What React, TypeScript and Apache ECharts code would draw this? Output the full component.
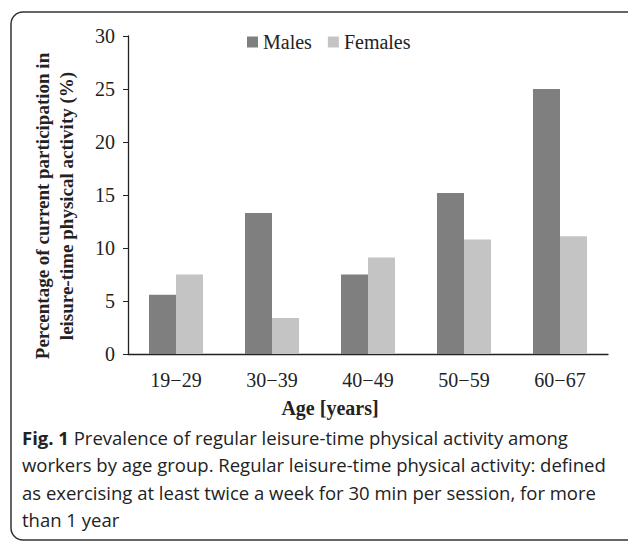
import React, { useEffect, useRef } from "react";
import * as echarts from "echarts";

const categories = ["19\u221229", "30\u221239", "40\u221249", "50\u221259", "60\u221267"];
const males = [5.6, 13.3, 7.5, 15.2, 25.0];
const females = [7.5, 3.4, 9.1, 10.8, 11.1];
const seriesNames = ["Males", "Females"];
const yTitle = "Percentage of current participation in\nleisure-time physical activity (%)";
const xTitle = "Age [years]";
const captionLines = [
  "Prevalence of regular leisure-time physical activity among",
  "workers by age group. Regular leisure-time physical activity: defined",
  "as exercising at least twice a week for 30 min per session, for more",
  "than 1 year",
];

const SERIF = "'Liberation Serif', 'Times New Roman', serif";
const SANS = "'Open Sans', 'Noto Sans', sans-serif";

export default function App() {
  const ref = useRef<HTMLDivElement>(null);
  useEffect(() => {
    if (!ref.current) return;
    const chart = echarts.init(ref.current, undefined, { renderer: "svg" });
    chart.setOption({
      animation: false,
      backgroundColor: "#ffffff",
      legend: {
        top: 27,
        left: 242,
        itemWidth: 11,
        itemHeight: 11,
        itemGap: 16,
        icon: "rect",
        textStyle: { fontFamily: SERIF, fontSize: 20, color: "#222", padding: [0, 0, 0, 0] },
        data: seriesNames,
      },
      grid: { left: 128, right: 20, top: 36, bottom: 188, containLabel: false },
      xAxis: {
        type: "category",
        data: categories,
        axisLine: { lineStyle: { color: "#222", width: 1.3 } },
        axisTick: { show: false },
        axisLabel: { fontFamily: SERIF, fontSize: 20, color: "#222", margin: 16 },
      },
      yAxis: {
        type: "value",
        min: 0,
        max: 30,
        interval: 5,
        splitLine: { show: false },
        axisLine: { show: true, lineStyle: { color: "#222", width: 1.3 } },
        axisTick: { show: true, length: 5, lineStyle: { color: "#222" } },
        axisLabel: { fontFamily: SERIF, fontSize: 20, color: "#222", margin: 13 },
      },
      series: [
        {
          name: seriesNames[0],
          type: "bar",
          data: males,
          barWidth: 27,
          barGap: "0%",
          itemStyle: { color: "#7f7f7f" },
        },
        {
          name: seriesNames[1],
          type: "bar",
          data: females,
          barWidth: 27,
          barGap: "0%",
          itemStyle: { color: "#c4c4c4" },
        },
      ],
      graphic: [
        {
          type: "rect",
          shape: { x: 11, y: 12, width: 630, height: 528, r: 12 },
          style: { fill: "none", stroke: "#333", lineWidth: 1.5 },
          silent: true,
        },
        {
          type: "text",
          x: 54,
          y: 206,
          rotation: Math.PI / 2,
          style: {
            text: yTitle,
            fontFamily: SERIF,
            fontSize: 19,
            fontWeight: "bold",
            fill: "#222",
            align: "center",
            verticalAlign: "middle",
            lineHeight: 24,
          },
        },
        {
          type: "text",
          x: 330,
          y: 408,
          style: {
            text: xTitle,
            fontFamily: SERIF,
            fontSize: 20,
            fontWeight: "bold",
            fill: "#222",
            align: "center",
            verticalAlign: "middle",
          },
        },
        {
          type: "text",
          x: 22,
          y: 437,
          style: {
            text: "{b|Fig. 1} " + captionLines[0],
            fontFamily: SANS,
            fontSize: 18.5,
            fill: "#222",
            verticalAlign: "middle",
            rich: {
              b: { fontFamily: SANS, fontSize: 18.5, fontWeight: "bold", fill: "#222" },
            },
          },
        },
        ...captionLines.slice(1).map((t, i) => ({
          type: "text",
          x: 22,
          y: 464.5 + i * 27.5,
          style: {
            text: t,
            fontFamily: SANS,
            fontSize: 18.5,
            fill: "#222",
            verticalAlign: "middle",
          },
        })),
      ],
    });
    return () => chart.dispose();
  }, []);
  return (
    <div
      ref={ref}
      style={{ position: "fixed", left: 0, top: 0, width: 628, height: 542 }}
    />
  );
}
